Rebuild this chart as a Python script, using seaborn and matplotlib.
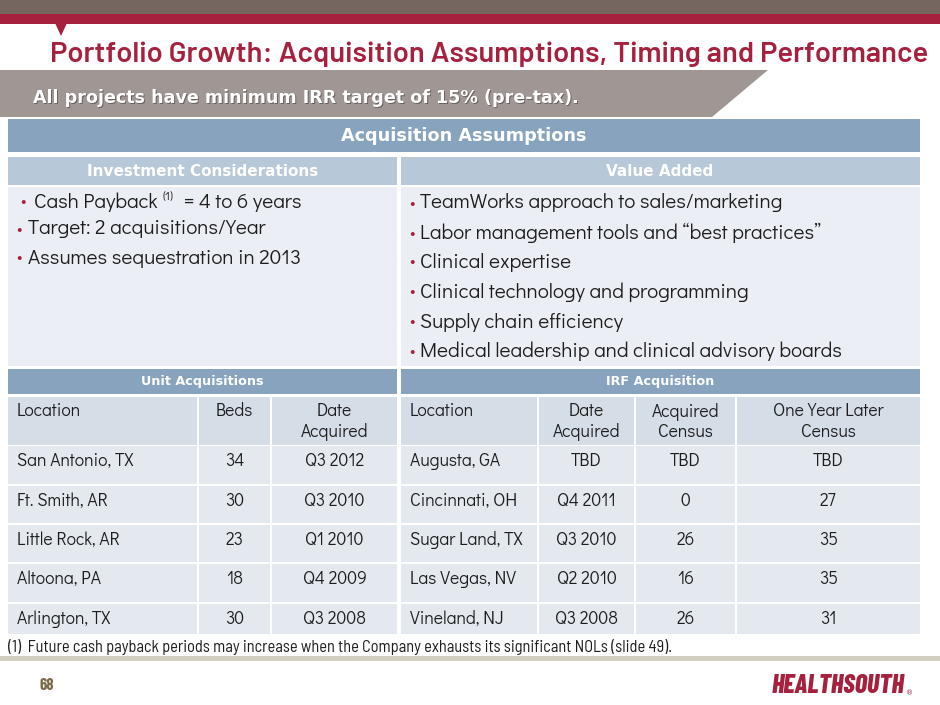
import matplotlib
matplotlib.use('Agg')
import matplotlib.pyplot as plt
import seaborn as sns
from matplotlib.patches import Rectangle, Polygon
from matplotlib import font_manager

# ---- slide text / data ----
TITLE = 'Portfolio Growth: Acquisition Assumptions, Timing and Performance'
SUBTITLE = 'All projects have minimum IRR target of 15% (pre-tax).'
SECTION = 'Acquisition Assumptions'
LEFT_HEAD = 'Investment Considerations'
RIGHT_HEAD = 'Value Added'

payback_parts = ['Cash Payback', '(1)', '= 4 to 6 years']
investment_bullets = ['Target: 2 acquisitions/Year', 'Assumes sequestration in 2013']
value_bullets = [
    'TeamWorks approach to sales/marketing',
    'Labor management tools and \u201cbest practices\u201d',
    'Clinical expertise',
    'Clinical technology and programming',
    'Supply chain efficiency',
    'Medical leadership and clinical advisory boards',
]

unit_headers = ['Location', 'Beds', 'Date\nAcquired']
unit_locations = ['San Antonio, TX', 'Ft. Smith, AR', 'Little Rock, AR', 'Altoona, PA', 'Arlington, TX']
unit_beds = [34, 30, 23, 18, 30]
unit_dates = ['Q3 2012', 'Q3 2010', 'Q1 2010', 'Q4 2009', 'Q3 2008']

irf_headers = ['Location', 'Date\nAcquired', 'Acquired\nCensus', 'One Year Later\nCensus']
irf_locations = ['Augusta, GA', 'Cincinnati, OH', 'Sugar Land, TX', 'Las Vegas, NV', 'Vineland, NJ']
irf_dates = ['TBD', 'Q4 2011', 'Q3 2010', 'Q2 2010', 'Q3 2008']
irf_acquired_census = ['TBD', 0, 26, 16, 26]
irf_later_census = ['TBD', 27, 35, 35, 31]

FOOTNOTE = '(1)  Future cash payback periods may increase when the Company exhausts its significant NOLs (slide 49).'
PAGE = '68'
LOGO = 'HEALTHSOUTH'

# ---- colours ----
BROWN = '#756660'
RED = '#A6213E'
BANNER = '#A09693'
HEAD = '#87A3BE'
SUBHEAD = '#B7C8D8'
BODY = '#EBEEF4'
TBL_HEAD = '#D5DDE7'
TBL_CELL = '#E4E9F0'
INK = '#1E1E1E'

sns.set_theme(style='white')
names = {f.name for f in font_manager.fontManager.ttflist}


def pick(*fams):
    for fam in fams:
        if fam in names:
            return fam
    return 'DejaVu Sans'


GOTHIC = pick('Didact Gothic', 'Questrial', 'Mulish', 'Muli', 'Lato')
SEMI = pick('Barlow Semi Condensed', 'Asap Condensed')
WIDE = pick('Barlow', 'Barlow Semi Condensed')
COND = pick('Barlow Condensed', 'Asap Condensed')
plt.rcParams['font.family'] = [GOTHIC, 'DejaVu Sans']

fig = plt.figure(figsize=(9.4, 7.05), dpi=100)
ax = fig.add_axes([0, 0, 1, 1])
ax.set_xlim(0, 940)
ax.set_ylim(705, 0)
ax.axis('off')
renderer = fig.canvas.get_renderer()


def width_of(s, size, **kw):
    t = ax.text(0, 0, s, fontsize=size, **kw)
    w = t.get_window_extent(renderer).width
    t.remove()
    return w


def fit_size(s, width, **kw):
    """font size that makes s about `width` pixels wide"""
    return 10 * width / width_of(s, 10, **kw)


def box(x0, y0, x1, y1, color):
    ax.add_patch(Rectangle((x0, y0), x1 - x0, y1 - y0, facecolor=color, edgecolor='none'))


# top bands
box(0, 0, 940, 14, BROWN)
box(0, 14, 940, 24, RED)
ax.add_patch(Polygon([(55, 23), (67, 23), (61, 36)], facecolor=RED, edgecolor='none'))

# title
tkw = dict(family=WIDE, weight=600)
ax.text(50, 62, TITLE, fontsize=min(fit_size(TITLE, 878, **tkw), 21.5), color=RED, va='baseline', **tkw)

# grey banner
ax.add_patch(Polygon([(0, 70), (768, 70), (712, 117), (0, 117)], facecolor=BANNER, edgecolor='none'))
skw = dict(family='DejaVu Sans', weight='bold')
ss = fit_size(SUBTITLE, 547, **skw)
ax.text(34.5, 104.5, SUBTITLE, fontsize=ss, color='#6A6260', va='baseline', **skw)
ax.text(33, 103, SUBTITLE, fontsize=ss, color='white', va='baseline', **skw)

# assumptions block
hkw = dict(family='DejaVu Sans', weight='bold')
box(8, 119, 920, 152, HEAD)
ax.text(464, 136, SECTION, fontsize=fit_size(SECTION, 244, **hkw), color='white',
        ha='center', va='center', **hkw)
box(8, 157, 397, 185, SUBHEAD)
box(401, 157, 920, 185, SUBHEAD)
hs = fit_size(LEFT_HEAD, 232, **hkw)
ax.text(203, 171, LEFT_HEAD, fontsize=hs, color='white', ha='center', va='center', **hkw)
ax.text(660, 171, RIGHT_HEAD, fontsize=hs, color='white', ha='center', va='center', **hkw)
box(8, 187, 397, 366, BODY)
box(401, 187, 920, 366, BODY)

bs = fit_size(value_bullets[-1], 426)
ax.text(20, 202, '\u2022', fontsize=bs * 0.8, color=RED, va='center')
x = 34
ax.text(x, 202, payback_parts[0], fontsize=bs, color=INK, va='center')
x += width_of(payback_parts[0], bs) + 5
ax.text(x, 197, payback_parts[1], fontsize=bs * 0.6, color=INK, va='center')
x += width_of(payback_parts[1], bs * 0.6) + 10
ax.text(x, 202, payback_parts[2], fontsize=bs, color=INK, va='center')
for y, s in zip([229, 258], investment_bullets):
    ax.text(16, y, '\u2022', fontsize=bs * 0.8, color=RED, va='center')
    ax.text(28, y, s, fontsize=bs, color=INK, va='center')
for y, s in zip([203, 233, 262, 292, 322, 351], value_bullets):
    ax.text(409, y, '\u2022', fontsize=bs * 0.8, color=RED, va='center')
    ax.text(420, y, s, fontsize=bs, color=INK, va='center')

# tables
ROWS = [(446, 484), (486, 523), (525, 562), (564, 602), (604, 634)]
cs = fit_size('San Antonio, TX', 117)
ths = fit_size('Unit Acquisitions', 122, **hkw)


def table(title, x0, x1, col_edges, headers, columns):
    box(x0, 369, x1, 394, HEAD)
    ax.text((x0 + x1) / 2, 382, title, fontsize=ths, color='white', ha='center', va='center', **hkw)
    edges = [x0] + col_edges + [x1]
    for c in range(len(headers)):
        l, r = edges[c] + (0 if c == 0 else 1), edges[c + 1] - (0 if c == len(headers) - 1 else 1)
        box(l, 397, r, 445, TBL_HEAD)
        for (y0, y1) in ROWS:
            box(l, y0, r, y1, TBL_CELL)
        if c == 0:
            xt, ha = l + 9, 'left'
        else:
            xt, ha = (l + r) / 2, 'center'
        ax.text(xt, 403, headers[c], fontsize=cs, color=INK, ha=ha, va='top', linespacing=1.2)
        for (y0, y1), v in zip(ROWS, columns[c]):
            ax.text(xt, y0 + 15, str(v), fontsize=cs, color=INK, ha=ha, va='center')


table('Unit Acquisitions', 8, 397, [198, 271], unit_headers,
      [unit_locations, unit_beds, unit_dates])
table('IRF Acquisition', 401, 920, [538, 635, 736], irf_headers,
      [irf_locations, irf_dates, irf_acquired_census, irf_later_census])

# footer
fkw = dict(family=SEMI)
ax.text(8, 647, FOOTNOTE, fontsize=fit_size(FOOTNOTE, 667, **fkw), color=INK, va='center', **fkw)
box(0, 656, 940, 661, '#D3CDC2')
ax.text(39, 686, PAGE, fontsize=12, weight='bold', color='#7B6B4C', va='center', family=COND)
lkw = dict(family=COND, weight=800, style='italic')
ax.text(772, 686, LOGO, fontsize=fit_size(LOGO, 133, **lkw), color=RED, va='center', **lkw)
ax.text(906, 693, '\u00ae', fontsize=5, color=RED, va='center', family='DejaVu Sans')

fig.savefig('out.png', dpi=100, facecolor='white')
